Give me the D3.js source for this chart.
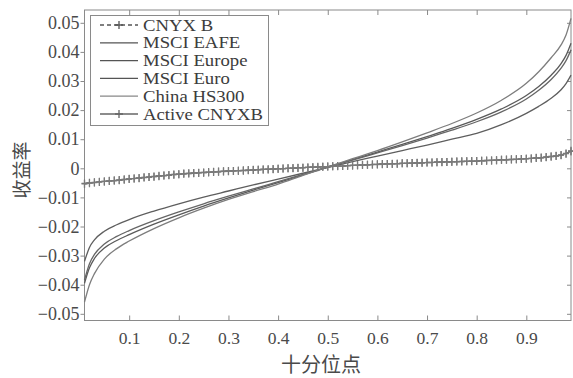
<!DOCTYPE html>
<html>
<head>
<meta charset="utf-8">
<script src="https://cdn.jsdelivr.net/npm/d3@7"></script>
<style>
  body { margin: 0; background: #fff; }
  svg { display: block; }
  .serif { font-family: "Liberation Serif", "Times New Roman", Tinos, "DejaVu Serif", serif; }
</style>
</head>
<body>
<div id="chart"></div>
<script>
// quantile levels (x) for the index curves
const qLevels = [0.01, 0.02, 0.03, 0.05, 0.075, 0.1, 0.15, 0.2, 0.25, 0.3, 0.35, 0.4, 0.45, 0.5,
  0.55, 0.6, 0.65, 0.7, 0.75, 0.8, 0.85, 0.9, 0.925, 0.95, 0.97, 0.98, 0.99];

const msciEafe = [-0.0320, -0.0272, -0.0246, -0.0216, -0.0194, -0.0176, -0.0147, -0.0122, -0.0099, -0.0078,
  -0.0057, -0.0037, -0.0017, 0.0003, 0.0023, 0.0042, 0.0061, 0.0080, 0.0100, 0.0120, 0.0150, 0.0189,
  0.0213, 0.0241, 0.0270, 0.0291, 0.0320];
const msciEurope = [-0.0395, -0.0342, -0.0310, -0.0274, -0.0248, -0.0228, -0.0192, -0.0160, -0.0130, -0.0102,
  -0.0075, -0.0049, -0.0023, 0.0004, 0.0030, 0.0056, 0.0082, 0.0109, 0.0137, 0.0168, 0.0204, 0.0250,
  0.0281, 0.0320, 0.0360, 0.0388, 0.0430];
const msciEuro = [-0.0384, -0.0328, -0.0296, -0.0260, -0.0234, -0.0214, -0.0180, -0.0150, -0.0122, -0.0096,
  -0.0071, -0.0046, -0.0021, 0.0004, 0.0028, 0.0053, 0.0078, 0.0104, 0.0131, 0.0160, 0.0194, 0.0238,
  0.0268, 0.0305, 0.0344, 0.0370, 0.0407];
const chinaHs300 = [-0.0460, -0.0400, -0.0362, -0.0312, -0.0276, -0.0250, -0.0207, -0.0170, -0.0137, -0.0107,
  -0.0080, -0.0054, -0.0024, 0.0005, 0.0033, 0.0061, 0.0091, 0.0122, 0.0154, 0.0190, 0.0234, 0.0292,
  0.0332, 0.0380, 0.0424, 0.0458, 0.0515];

// percentile levels (x) for the CNYX series, one marker each
const pLevels = [
  0.01,0.02,0.03,0.04,0.05,0.06,0.07,0.08,0.09,0.10,
  0.11,0.12,0.13,0.14,0.15,0.16,0.17,0.18,0.19,0.20,
  0.21,0.22,0.23,0.24,0.25,0.26,0.27,0.28,0.29,0.30,
  0.31,0.32,0.33,0.34,0.35,0.36,0.37,0.38,0.39,0.40,
  0.41,0.42,0.43,0.44,0.45,0.46,0.47,0.48,0.49,0.50,
  0.51,0.52,0.53,0.54,0.55,0.56,0.57,0.58,0.59,0.60,
  0.61,0.62,0.63,0.64,0.65,0.66,0.67,0.68,0.69,0.70,
  0.71,0.72,0.73,0.74,0.75,0.76,0.77,0.78,0.79,0.80,
  0.81,0.82,0.83,0.84,0.85,0.86,0.87,0.88,0.89,0.90,
  0.91,0.92,0.93,0.94,0.95,0.96,0.97,0.98,0.99];

const cnyxB = [
  -0.0052,-0.0050,-0.0049,-0.0047,-0.0045,-0.0044,-0.0042,-0.0041,-0.0039,-0.0037,
  -0.0035,-0.0034,-0.0032,-0.0030,-0.0029,-0.0027,-0.0025,-0.0024,-0.0022,-0.0020,
  -0.0019,-0.0018,-0.0017,-0.0016,-0.0015,-0.0014,-0.0013,-0.0012,-0.0011,-0.0010,
  -0.0009,-0.0008,-0.0008,-0.0007,-0.0006,-0.0005,-0.0004,-0.0004,-0.0003,-0.0002,
  -0.0001,0.0000,0.0000,0.0001,0.0002,0.0003,0.0004,0.0004,0.0005,0.0006,
  0.0007,0.0008,0.0008,0.0009,0.0010,0.0011,0.0012,0.0012,0.0013,0.0014,
  0.0015,0.0015,0.0016,0.0016,0.0017,0.0017,0.0018,0.0019,0.0019,0.0020,
  0.0020,0.0021,0.0021,0.0022,0.0022,0.0023,0.0023,0.0024,0.0024,0.0025,
  0.0026,0.0026,0.0027,0.0028,0.0029,0.0029,0.0030,0.0031,0.0032,0.0033,
  0.0034,0.0035,0.0036,0.0038,0.0040,0.0042,0.0045,0.0050,0.0060];

const activeCnyxB = [
  -0.0054,-0.0051,-0.0048,-0.0046,-0.0045,-0.0043,-0.0042,-0.0040,-0.0038,-0.0036,
  -0.0035,-0.0033,-0.0031,-0.0030,-0.0028,-0.0026,-0.0025,-0.0023,-0.0021,-0.0020,
  -0.0018,-0.0017,-0.0016,-0.0015,-0.0014,-0.0013,-0.0012,-0.0011,-0.0010,-0.0009,
  -0.0009,-0.0008,-0.0007,-0.0006,-0.0005,-0.0005,-0.0004,-0.0003,-0.0002,-0.0001,
  -0.0001,0.0000,0.0001,0.0002,0.0002,0.0003,0.0004,0.0005,0.0005,0.0006,
  0.0007,0.0007,0.0008,0.0009,0.0010,0.0010,0.0011,0.0012,0.0013,0.0013,
  0.0014,0.0015,0.0015,0.0016,0.0017,0.0017,0.0018,0.0018,0.0019,0.0020,
  0.0020,0.0021,0.0022,0.0022,0.0023,0.0023,0.0024,0.0024,0.0025,0.0025,
  0.0026,0.0027,0.0027,0.0028,0.0029,0.0030,0.0031,0.0031,0.0032,0.0033,
  0.0034,0.0036,0.0037,0.0039,0.0041,0.0043,0.0046,0.0051,0.0058];

const xTicks = [0.1, 0.2, 0.3, 0.4, 0.5, 0.6, 0.7, 0.8, 0.9];
const yTicks = [-0.05, -0.04, -0.03, -0.02, -0.01, 0, 0.01, 0.02, 0.03, 0.04, 0.05];
const legendNames = ["CNYX B", "MSCI EAFE", "MSCI Europe", "MSCI Euro", "China HS300", "Active CNYXB"];

const W = 573, H = 378;
const plotL = 84.5, plotR = 571, plotT = 10, plotB = 320.5;
const cjk = "'Noto Sans CJK SC', sans-serif";
const axisCol = "#8a8a8a", textCol = "#4a4a4a";

const svg = d3.select("#chart").append("svg")
  .attr("width", W).attr("height", H);

const x = d3.scaleLinear().domain([0.01, 0.99]).range([plotL, plotR]);
const y = d3.scaleLinear().domain([-0.0523, 0.0544]).range([plotB, plotT]);

// frame
svg.append("rect")
  .attr("x", plotL).attr("y", plotT)
  .attr("width", plotR - plotL).attr("height", plotB - plotT)
  .attr("fill", "none").attr("stroke", axisCol).attr("stroke-width", 1);

// axes: x ticks inward on bottom/top, y ticks outward left, inward right
const fmtY = d => d === 0 ? "0" : d3.format(".2f")(d);

const gx = svg.append("g").attr("transform", `translate(0,${plotB})`)
  .call(d3.axisBottom(x).tickValues(xTicks).tickSizeInner(-5).tickSizeOuter(0).tickPadding(11).tickFormat(d3.format(".1f")));
const gxTop = svg.append("g").attr("transform", `translate(0,${plotT})`)
  .call(d3.axisTop(x).tickValues(xTicks).tickSizeInner(-5).tickSizeOuter(0).tickFormat(""));
const gy = svg.append("g").attr("transform", `translate(${plotL},0)`)
  .call(d3.axisLeft(y).tickValues(yTicks).tickSizeInner(4).tickSizeOuter(0).tickPadding(1).tickFormat(fmtY));
const gyR = svg.append("g").attr("transform", `translate(${plotR},0)`)
  .call(d3.axisRight(y).tickValues(yTicks).tickSizeInner(-4).tickSizeOuter(0).tickFormat(""));

[gx, gxTop, gy, gyR].forEach(g => {
  g.attr("font-family", null).attr("font-size", null);
  g.select(".domain").remove();
  g.selectAll("line").attr("stroke", axisCol);
  g.selectAll("text")
    .attr("class", "serif")
    .attr("fill", textCol);
});
gx.selectAll("text").style("font-size", "17.5px");
gy.selectAll("text").style("font-size", "18px");

// axis titles
svg.append("text")
  .attr("x", 321).attr("y", 372)
  .attr("text-anchor", "middle")
  .style("font-family", cjk).style("font-size", "20px").attr("fill", textCol)
  .text("十分位点");
svg.append("text")
  .attr("transform", "translate(29,170) rotate(-90)")
  .attr("text-anchor", "middle")
  .style("font-family", cjk).style("font-size", "19px").attr("fill", textCol)
  .text("收益率");

// index curves
const curveLine = d3.line()
  .x((d, i) => x(qLevels[i]))
  .y(d => y(d))
  .curve(d3.curveMonotoneX);

const plot = svg.append("g");
const indexSeries = [
  { vals: msciEafe, color: "#5e5e5e" },
  { vals: msciEurope, color: "#5a5a5a" },
  { vals: msciEuro, color: "#666" },
  { vals: chinaHs300, color: "#7d7d7d" }
];
indexSeries.forEach(s => {
  plot.append("path")
    .attr("d", curveLine(s.vals))
    .attr("fill", "none")
    .attr("stroke", s.color)
    .attr("stroke-width", 1.3);
});

// CNYX series with + markers
const cnyxLine = d3.line()
  .x((d, i) => x(pLevels[i]))
  .y(d => y(d));

function drawMarked(vals, dashed, color) {
  plot.append("path")
    .attr("d", cnyxLine(vals))
    .attr("fill", "none")
    .attr("stroke", color)
    .attr("stroke-width", 1.3)
    .attr("stroke-dasharray", dashed ? "4,3" : null);
  plot.append("g").selectAll("path")
    .data(vals)
    .join("path")
    .attr("transform", (d, i) => `translate(${x(pLevels[i])},${y(d)})`)
    .attr("d", "M0,-4V4M-3,0H3")
    .attr("stroke", color)
    .attr("stroke-width", 1.2)
    .attr("fill", "none");
}
drawMarked(cnyxB, true, "#6f6f6f");
drawMarked(activeCnyxB, false, "#7a7a7a");

// legend
const rowH = 17.8;
const leg = svg.append("g");
leg.append("rect")
  .attr("x", 90.5).attr("y", 15.5)
  .attr("width", 178).attr("height", 110)
  .attr("fill", "#fff").attr("stroke", axisCol).attr("stroke-width", 1);

const legStyles = [
  { color: "#555", dash: "4,3", mark: true },
  { color: "#555", dash: null, mark: false },
  { color: "#555", dash: null, mark: false },
  { color: "#555", dash: null, mark: false },
  { color: "#888", dash: null, mark: false },
  { color: "#666", dash: null, mark: true }
];
legendNames.forEach((name, i) => {
  const cy = 25 + i * rowH;
  const st = legStyles[i];
  leg.append("line")
    .attr("x1", 100).attr("x2", 138)
    .attr("y1", cy).attr("y2", cy)
    .attr("stroke", st.color).attr("stroke-width", 1.3)
    .attr("stroke-dasharray", st.dash);
  if (st.mark) {
    leg.append("path")
      .attr("transform", `translate(119,${cy})`)
      .attr("d", "M0,-4V4M-4,0H4")
      .attr("stroke", st.color).attr("stroke-width", 1.3);
  }
  leg.append("text")
    .attr("class", "serif")
    .attr("transform", `translate(143,${cy + 5.5}) scale(1.17,1)`)
    .style("font-size", "16px")
    .attr("fill", "#3c3c3c")
    .text(name);
});
</script>
</body>
</html>
